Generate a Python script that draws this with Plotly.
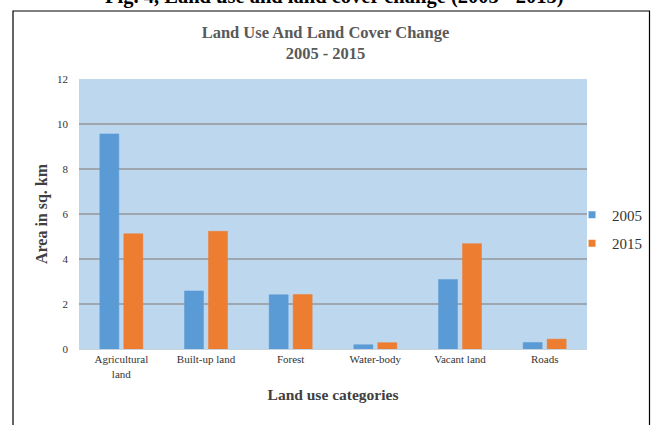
import plotly.graph_objects as go

categories = ["Agricultural<br>land", "Built-up land", "Forest", "Water-body", "Vacant land", "Roads"]
values_2005 = [9.56, 2.58, 2.41, 0.19, 3.09, 0.29]
values_2015 = [5.12, 5.23, 2.42, 0.28, 4.68, 0.44]
series_names = ["2005", "2015"]
colors = ["#5B9BD5", "#ED7D31"]
y_ticks = [0, 2, 4, 6, 8, 10, 12]

W, H = 651, 425
L, R, T, B = 79, 64, 79, 76
pw, ph = W - L - R, H - T - B

def px_x(px):
    return (px - L) / pw

def px_y(py):
    return (H - B - py) / ph

serif = "Liberation Serif, Times New Roman, serif"

fig = go.Figure()
for name, vals, col in zip(series_names, [values_2005, values_2015], colors):
    fig.add_trace(go.Bar(name=name, x=categories, y=vals,
                         marker=dict(color=col, line=dict(color=col, width=0.5)),
                         showlegend=False))
# legend entries with small square markers
for i, (name, col) in enumerate(zip(series_names, colors)):
    fig.add_trace(go.Scatter(name=name, x=[None], y=[None], mode="markers",
                             marker=dict(symbol="square", size=7, color=col),
                             legendgroup=str(i), showlegend=True))

fig.update_layout(
    width=W, height=H,
    margin=dict(l=L, r=R, t=T, b=B, autoexpand=False),
    paper_bgcolor="white",
    plot_bgcolor="#BDD7EE",
    barmode="group",
    bargap=0.433,
    bargroupgap=0.208,
    font=dict(family=serif, color="#404040"),
    title=dict(text="<b>Land Use And Land Cover Change<br>2005 - 2015</b>",
               x=px_x(333), xanchor="center", y=1 - 38 / H, yanchor="middle",
               font=dict(family=serif, size=16.5, color="#595959")),
    legend=dict(x=px_x(572), xanchor="left", y=px_y(229), yanchor="middle",
                font=dict(family=serif, size=15, color="#333333"),
                tracegroupgap=6, itemwidth=30, bgcolor="rgba(0,0,0,0)"),
    showlegend=True,
)

fig.update_xaxes(
    showgrid=False, showline=True, linecolor="#c8d4de", linewidth=1,
    ticks="", tickfont=dict(family=serif, size=11, color="#333333"),
    title=dict(text="<b>Land use categories</b>", standoff=10,
               font=dict(family=serif, size=15.5, color="#404040")),
    automargin=False,
)
fig.update_yaxes(
    range=[0, 12], tickvals=y_ticks, showgrid=True, gridcolor="#9ea7b0", gridwidth=1.5,
    zeroline=False, ticks="", ticklabelstandoff=10,
    tickfont=dict(family=serif, size=11, color="#333333"),
    title=dict(text="<b>Area in sq. km</b>", standoff=5,
               font=dict(family=serif, size=16, color="#404040")),
    automargin=False,
)

# outer frame box
fig.add_shape(type="rect", xref="paper", yref="paper",
              x0=px_x(13), x1=px_x(649.5), y0=px_y(H + 5), y1=px_y(11),
              line=dict(color="black", width=1.2), fillcolor="rgba(0,0,0,0)", layer="above")

# figure caption, partially cut off at top
fig.add_annotation(text="<b>Fig. 4, Land use and land cover change (2005 - 2015)</b>",
                   xref="paper", yref="paper", x=px_x(334), y=px_y(-4), yanchor="middle",
                   showarrow=False, font=dict(family=serif, size=20.5, color="black"))

fig.write_html("out.html")
